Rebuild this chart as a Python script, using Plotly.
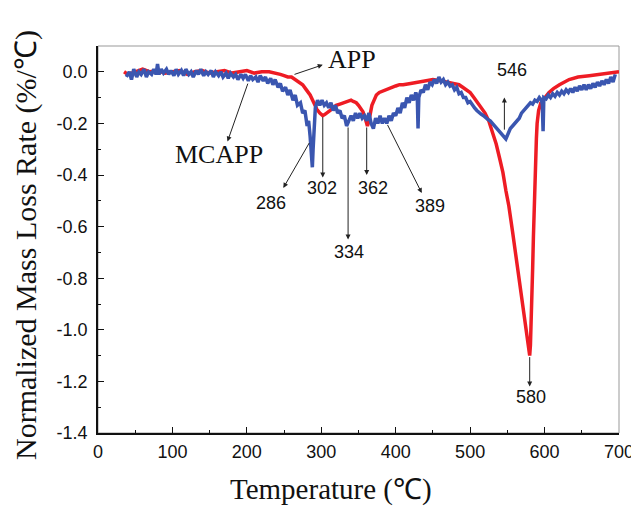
import plotly.graph_objects as go

# APP (red) curve
app_x = [35, 40, 50, 60, 70, 80, 90, 100, 110, 120, 130, 140, 150, 160, 170, 180, 190, 200, 210, 220, 230, 240,
         245, 250, 255, 260, 265, 270, 275, 280, 285, 290, 294, 298, 302, 305, 308, 312, 316, 320, 325, 330, 335,
         340, 343, 347, 350, 353, 356, 359, 362, 364, 366, 368, 371, 374, 378, 382, 386, 390, 395, 400, 405, 410,
         420, 430, 440, 450, 460, 470, 478, 485, 490, 495, 500, 505, 510, 515, 520, 525, 530, 535, 540, 544, 548,
         552, 557, 561, 565, 570, 575, 578, 580, 581, 582, 583, 584, 585, 586, 587, 588, 589, 590, 592, 595, 600,
         606, 612, 620, 633, 645, 660, 675, 690, 700]
app_y = [0.0, -0.01, 0.0, 0.01, 0.0, 0.005, -0.005, 0.0, 0.005, -0.01, 0.0, 0.005, -0.005, 0.0, 0.005, -0.005,
         0.0, 0.005, -0.005, 0.0, 0.0, -0.005, -0.01, -0.015, -0.02, -0.02, -0.03, -0.04, -0.05, -0.07, -0.09,
         -0.12, -0.145, -0.16, -0.17, -0.165, -0.16, -0.15, -0.14, -0.13, -0.125, -0.12, -0.115, -0.11, -0.115,
         -0.12, -0.13, -0.14, -0.155, -0.18, -0.21, -0.19, -0.16, -0.13, -0.11, -0.09, -0.08, -0.075, -0.07,
         -0.065, -0.06, -0.055, -0.05, -0.05, -0.045, -0.04, -0.035, -0.03, -0.035, -0.04, -0.045, -0.05, -0.06,
         -0.07, -0.08, -0.1, -0.12, -0.14, -0.16, -0.19, -0.23, -0.28, -0.34, -0.39, -0.46, -0.52, -0.62, -0.7,
         -0.78, -0.88, -0.99, -1.05, -1.10, -1.06, -0.98, -0.88, -0.76, -0.64, -0.52, -0.42, -0.33, -0.26, -0.2,
         -0.15, -0.12, -0.1, -0.08, -0.065, -0.05, -0.03, -0.02, -0.015, -0.01, -0.005, 0.0]

# MCAPP (blue) curve
mcapp_x = [38, 42, 45, 48, 52, 55, 58, 62, 65, 68, 72, 75, 78, 80, 82, 85, 88, 92, 95, 98, 102, 105, 108, 112,
           115, 118, 122, 125, 128, 132, 135, 138, 142, 145, 148, 152, 155, 158, 162, 165, 168, 172, 175, 178,
           182, 185, 188, 192, 195, 198, 202, 205, 208, 212, 215, 218, 222, 225, 228, 232, 235, 238, 242, 245,
           248, 252, 255, 258, 262, 265, 268, 272, 275, 278, 281, 283, 285, 286, 288, 289, 291, 292, 295, 298,
           301, 304, 307, 310, 313, 316, 319, 322, 325, 328, 331, 334, 337, 340, 343, 346, 349, 352, 355, 358,
           361, 364, 367, 370, 373, 376, 379, 382, 385, 388, 391, 394, 397, 400, 403, 406, 409, 412, 415, 418,
           421, 424, 427, 429, 430, 431, 434, 437, 440, 443, 446, 449, 452, 455, 458, 461, 464, 467, 470, 473,
           476, 479, 482, 485, 488, 491, 494, 497, 500, 503, 506, 509, 512, 515, 518, 521, 524, 527, 530, 533,
           536, 539, 542, 545, 548, 551, 554, 557, 560, 563, 566, 569, 572, 575, 578, 581, 584, 587, 590, 593,
           596, 597, 598, 599, 602, 605, 608, 611, 614, 617, 620, 623, 626, 629, 632, 635, 638, 641, 644, 647,
           650, 653, 656, 659, 662, 665, 668, 671, 674, 677, 680, 683, 686, 689, 692, 695]
mcapp_y = [-0.02, 0.0, -0.03, 0.01, -0.02, 0.0, -0.01, 0.01, -0.02, 0.0, -0.01, 0.01, -0.01, 0.03, -0.01, 0.01,
           -0.005, 0.01, -0.01, 0.005, -0.015, 0.01, -0.01, 0.005, -0.015, 0.01, -0.01, 0.0, -0.02, 0.005, -0.01,
           0.01, -0.015, 0.0, -0.01, 0.005, -0.02, 0.0, -0.015, 0.0, -0.02, -0.005, -0.025, -0.005, -0.02, -0.01,
           -0.03, -0.01, -0.025, -0.01, -0.035, -0.015, -0.03, -0.02, -0.04, -0.015, -0.035, -0.02, -0.045,
           -0.025, -0.05, -0.03, -0.06, -0.045, -0.075, -0.06, -0.09, -0.07, -0.11, -0.09, -0.13, -0.12, -0.16,
           -0.15, -0.21, -0.19, -0.25, -0.3, -0.37, -0.3, -0.2, -0.14, -0.11, -0.13, -0.11, -0.13, -0.12, -0.14,
           -0.12, -0.15, -0.13, -0.16, -0.15, -0.18, -0.17, -0.21, -0.19, -0.17, -0.19, -0.16, -0.18, -0.16,
           -0.18, -0.17, -0.19, -0.16, -0.2, -0.22, -0.18, -0.2, -0.17, -0.2, -0.18, -0.2, -0.17, -0.19, -0.16,
           -0.17, -0.14, -0.16, -0.12, -0.14, -0.1, -0.12, -0.09, -0.11, -0.08, -0.1, -0.22, -0.1, -0.07, -0.08,
           -0.05, -0.07, -0.04, -0.05, -0.03, -0.045, -0.02, -0.04, -0.03, -0.05, -0.04, -0.055, -0.05, -0.07,
           -0.06, -0.085, -0.08, -0.1, -0.1, -0.12, -0.115, -0.13, -0.14, -0.15, -0.16, -0.165, -0.17, -0.18,
           -0.185, -0.19, -0.2, -0.21, -0.22, -0.23, -0.24, -0.25, -0.26, -0.24, -0.22, -0.21, -0.2, -0.19,
           -0.18, -0.16, -0.15, -0.14, -0.13, -0.12, -0.125, -0.11, -0.115, -0.1, -0.11, -0.13, -0.23, -0.1,
           -0.105, -0.09, -0.1, -0.085, -0.095, -0.08, -0.09, -0.075, -0.085, -0.07, -0.08, -0.065, -0.08, -0.06,
           -0.075, -0.055, -0.07, -0.05, -0.07, -0.05, -0.065, -0.045, -0.06, -0.04, -0.055, -0.035, -0.05,
           -0.03, -0.045, -0.02, -0.04, -0.01]

x_ticks = [0, 100, 200, 300, 400, 500, 600, 700]
y_ticks = [0.0, -0.2, -0.4, -0.6, -0.8, -1.0, -1.2, -1.4]
y_tick_text = ["0.0", "-0.2", "-0.4", "-0.6", "-0.8", "-1.0", "-1.2", "-1.4"]

# Peak annotations: label, label position, arrow tail (on curve), arrow head (near label)
peak_labels = ["286", "302", "334", "362", "389", "546", "580"]
peak_text_x = [232, 301, 337, 369, 446, 556, 582]
peak_text_y = [-0.51, -0.45, -0.70, -0.45, -0.52, 0.008, -1.26]
peak_tail_x = [285, 302, 336, 361, 388, 546, 580]
peak_tail_y = [-0.27, -0.17, -0.21, -0.21, -0.2, -0.23, -1.10]
peak_head_x = [249, 302, 336, 361, 435, 546, 580]
peak_head_y = [-0.45, -0.41, -0.65, -0.40, -0.47, -0.10, -1.22]

series_labels = ["APP", "MCAPP"]
series_text_x = [341, 162]
series_text_y = [0.046, -0.32]
series_tail_x = [262, 202]
series_tail_y = [-0.012, -0.04]
series_head_x = [302, 174]
series_head_y = [0.027, -0.27]

SERIF = "Liberation Serif, Times New Roman"
SANS = "Liberation Sans, Arial"

fig = go.Figure()
fig.add_trace(go.Scatter(x=app_x, y=app_y, mode="lines", line=dict(color="#ee1c24", width=3.5), name="APP"))
fig.add_trace(go.Scatter(x=mcapp_x, y=mcapp_y, mode="lines", line=dict(color="#3a56b0", width=3.5),
                         name="MCAPP"))

annotations = []
for lab, tx, ty, ax_, ay_, hx, hy in zip(peak_labels, peak_text_x, peak_text_y, peak_tail_x, peak_tail_y,
                                         peak_head_x, peak_head_y):
    annotations.append(dict(x=hx, y=hy, ax=ax_, ay=ay_, axref="x", ayref="y", xref="x", yref="y", text="",
                            showarrow=True, arrowhead=2, arrowsize=1, arrowwidth=1, arrowcolor="#222"))
    annotations.append(dict(x=tx, y=ty, xref="x", yref="y", text=lab, showarrow=False,
                            font=dict(family=SANS, size=18, color="#111")))
for lab, tx, ty, ax_, ay_, hx, hy in zip(series_labels, series_text_x, series_text_y, series_tail_x,
                                         series_tail_y, series_head_x, series_head_y):
    annotations.append(dict(x=hx, y=hy, ax=ax_, ay=ay_, axref="x", ayref="y", xref="x", yref="y", text="",
                            showarrow=True, arrowhead=2, arrowsize=1, arrowwidth=1, arrowcolor="#222"))
    annotations.append(dict(x=tx, y=ty, xref="x", yref="y", text=lab, showarrow=False,
                            font=dict(family=SERIF, size=26, color="#111")))

# axis titles (paper coordinates)
annotations.append(dict(x=0.447, y=-0.147, xref="paper", yref="paper",
                        text="Temperature (℃)", showarrow=False, xanchor="center", yanchor="middle",
                        font=dict(family=SERIF, size=29, color="#111")))
annotations.append(dict(x=-0.138, y=0.486, xref="paper", yref="paper",
                        text="Normalized Mass Loss Rate (%/℃)", showarrow=False, textangle=-90,
                        xanchor="center", yanchor="middle",
                        font=dict(family=SERIF, size=30, color="#111")))

fig.update_layout(
    width=639, height=510,
    margin=dict(l=90, r=28, t=38, b=85),
    paper_bgcolor="white", plot_bgcolor="white",
    showlegend=False,
    annotations=annotations,
    shapes=[dict(type="rect", xref="paper", yref="paper", x0=0, y0=0, x1=1, y1=1,
                 line=dict(color="#999", width=1), layer="below")],
    xaxis=dict(range=[0, 700], tickvals=x_ticks, ticks="inside", ticklen=6, tickcolor="#111",
               showline=True, linecolor="#111", linewidth=1.5, showgrid=False, zeroline=False,
               automargin=False, ticklabelstandoff=2,
               minor=dict(ticks="inside", ticklen=3, dtick=50, tick0=0, tickcolor="#111"),
               tickfont=dict(family=SANS, size=18, color="#111")),
    yaxis=dict(range=[-1.4, 0.1], tickvals=y_ticks, ticktext=y_tick_text, ticks="inside", ticklen=6,
               tickcolor="#111", showline=True, linecolor="#111", linewidth=1.5, showgrid=False,
               zeroline=False, automargin=False, ticklabelstandoff=5,
               minor=dict(ticks="inside", ticklen=3, dtick=0.1, tick0=0, tickcolor="#111"),
               tickfont=dict(family=SANS, size=18, color="#111")),
)

fig.write_html("out.html")
